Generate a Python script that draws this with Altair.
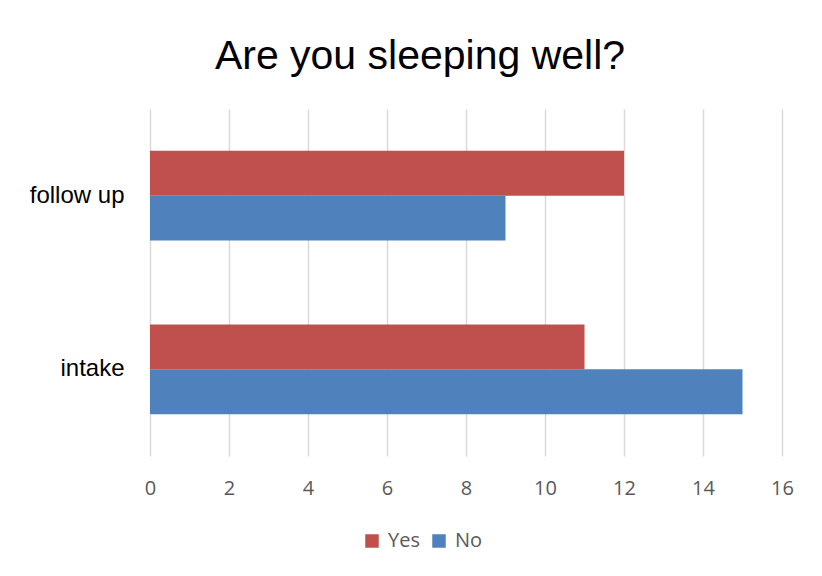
import altair as alt
import pandas as pd

categories = ["follow up", "intake"]
yes_values = [12, 11]
no_values = [9, 15]
series = ["Yes", "No"]
colors = ["#C0504D", "#4F81BD"]
x_ticks = [0, 2, 4, 6, 8, 10, 12, 14, 16]

rows = []
for c, y, n in zip(categories, yes_values, no_values):
    rows.append({"category": c, "series": "Yes", "value": y})
    rows.append({"category": c, "series": "No", "value": n})
df = pd.DataFrame(rows)

chart = alt.Chart(df).mark_bar().encode(
    x=alt.X("value:Q",
            scale=alt.Scale(domain=[0, 16], nice=False),
            axis=alt.Axis(values=x_ticks, title=None, domain=False, ticks=False, tickSize=0,
                          grid=True, gridColor="#d9d9d9", gridWidth=1.5,
                          labelFont="Open Sans", labelFontSize=20, labelColor="#595959",
                          labelPadding=22, labelFlush=False)),
    y=alt.Y("category:N", sort=categories,
            scale=alt.Scale(paddingInner=0.483, paddingOuter=0.241),
            axis=alt.Axis(title=None, domain=False, ticks=False, tickSize=0, grid=False,
                          labelFont="Liberation Sans", labelFontSize=24, labelColor="#000000",
                          labelPadding=26)),
    yOffset=alt.YOffset("series:N", sort=series),
    color=alt.Color("series:N", sort=series,
                    scale=alt.Scale(domain=series, range=colors),
                    legend=alt.Legend(title=None, orient="none", direction="horizontal",
                                      legendX=212, legendY=422,
                                      symbolType="square", symbolSize=182, symbolStrokeWidth=0,
                                      labelFont="Open Sans", labelFontSize=20, labelColor="#595959",
                                      labelOffset=6, columnPadding=9)),
).properties(
    width=632,
    height=347,
    title=alt.TitleParams("Are you sleeping well?", font="Liberation Sans", fontSize=41,
                          fontWeight="normal", color="#000000", anchor="middle",
                          baseline="alphabetic", offset=0, dx=-46, dy=1),
    autosize=alt.AutoSizeParams(type="none"),
    padding={"left": 142, "top": 101, "right": 32, "bottom": 112},
    background="white",
).configure_view(stroke=None)

chart.save("out.html", embed_options={"renderer": "svg", "actions": False})
